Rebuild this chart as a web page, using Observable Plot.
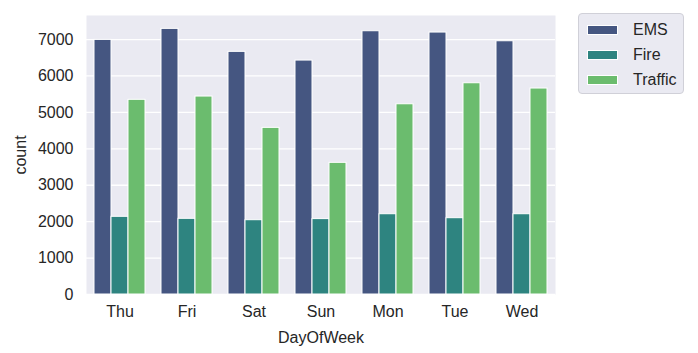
<!DOCTYPE html>
<html>
<head>
<meta charset="utf-8">
<script src="https://cdn.jsdelivr.net/npm/d3@7"></script>
<script src="https://cdn.jsdelivr.net/npm/@observablehq/plot@0.6"></script>
<style>
  html, body { margin: 0; padding: 0; background: #fff; }
  #wrap { position: relative; width: 698px; height: 353px; font-family: "Liberation Sans", Arial, sans-serif; color: #262626; }
  #legend { position: absolute; left: 578px; top: 13px; width: 106px; height: 81px; background: #eaeaf2; border: 1px solid #d0d0d8; border-radius: 4px; box-sizing: border-box; }
  .item { position: absolute; left: 8px; height: 12px; display: flex; align-items: center; font-size: 16px; }
  .sw { width: 31px; height: 10px; border: 1px solid #fff; box-sizing: border-box; margin-right: 15px; }
</style>
</head>
<body>
<div id="wrap"><div id="legend"></div></div>
<script>
const days = ["Thu", "Fri", "Sat", "Sun", "Mon", "Tue", "Wed"];
const reasons = ["EMS", "Fire", "Traffic"];
const ems = [6990, 7293, 6662, 6423, 7228, 7192, 6953];
const fire = [2133, 2078, 2040, 2070, 2204, 2095, 2204];
const traffic = [5345, 5435, 4575, 3615, 5223, 5800, 5655];
const colors = ["#455681", "#2e8480", "#6bbc6e"];
const yTicks = [0, 1000, 2000, 3000, 4000, 5000, 6000, 7000];

const series = [ems, fire, traffic];
const data = [];
days.forEach((d, i) => reasons.forEach((r, j) => data.push({day: d, reason: r, count: series[j][i]})));

const chart = Plot.plot({
  width: 698,
  height: 353,
  marginLeft: 86,
  marginRight: 143,
  marginTop: 15,
  marginBottom: 59,
  style: {fontFamily: "'Liberation Sans', Arial, sans-serif", fontSize: "16px", color: "#262626", background: "transparent"},
  fx: {domain: days, padding: 0, axis: "bottom", tickSize: 0, tickPadding: 11, label: "DayOfWeek", labelAnchor: "center", labelOffset: 48},
  x: {domain: reasons, paddingInner: 0, paddingOuter: 0.375, axis: null},
  y: {domain: [0, 7660]},
  color: {domain: reasons, range: colors},
  marks: [
    Plot.frame({fill: "#eaeaf2", stroke: "none", facet: "super"}),
    Plot.gridY(yTicks, {stroke: "#ffffff", strokeOpacity: 1, strokeWidth: 1.3}),
    Plot.barY(data, {fx: "day", x: "reason", y: "count", fill: "reason", stroke: "#ffffff", strokeWidth: 1}),
    Plot.axisY(yTicks, {tickSize: 0, tickPadding: 13, tickFormat: "d", label: "count", labelAnchor: "center", labelArrow: false, labelOffset: 72})
  ]
});
document.getElementById("wrap").prepend(chart);

const legend = document.getElementById("legend");
reasons.forEach((r, j) => {
  const it = document.createElement("div");
  it.className = "item";
  it.style.top = (10 + j * 25) + "px";
  const sw = document.createElement("div");
  sw.className = "sw";
  sw.style.background = colors[j];
  it.appendChild(sw);
  it.appendChild(document.createTextNode(r));
  legend.appendChild(it);
});
</script>
</body>
</html>
